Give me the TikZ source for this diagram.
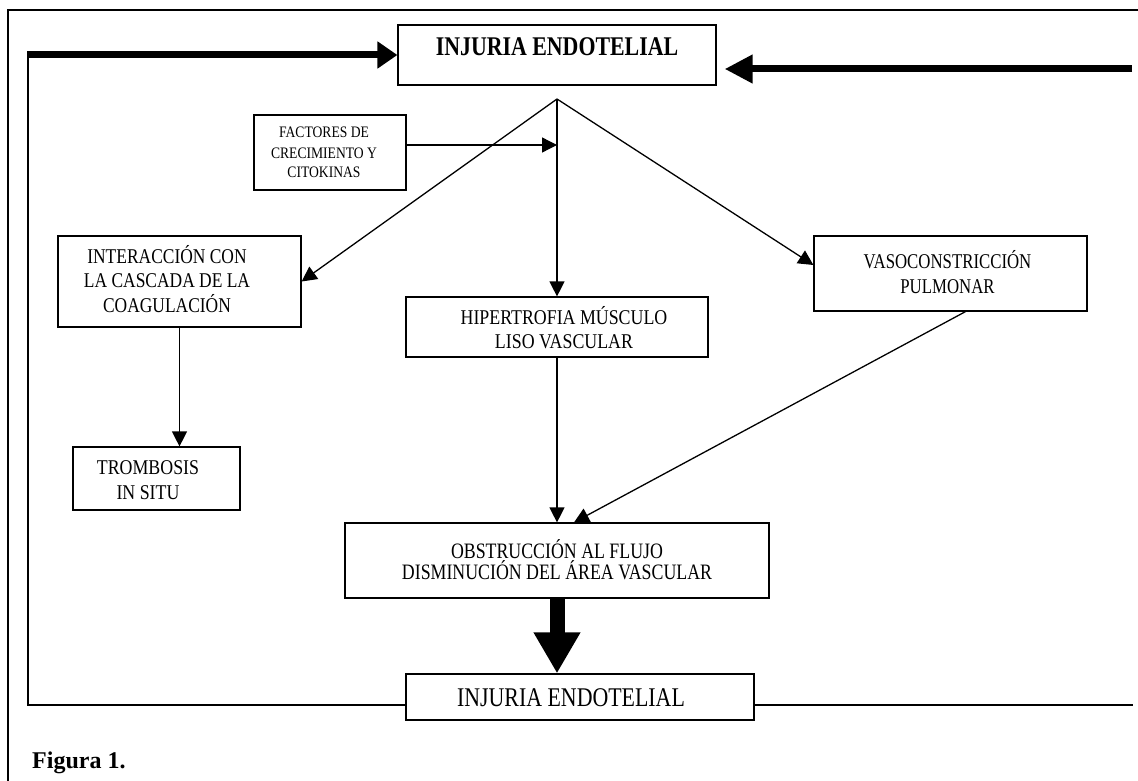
\documentclass[tikz,border=0pt]{standalone}
\usepackage{graphicx}
\usepackage{fontspec}
\setmainfont{Liberation Serif}
\usetikzlibrary{arrows.meta,calc}

% centred lines with a fixed baseline distance; the box baseline is the last line
\newcommand\txtrows[2]{\vbox{\baselineskip=#1\lineskiplimit=-\maxdimen\lineskip=0pt\halign{\hfil##\hfil\cr#2\crcr}}}
% horizontally condensed text
\newcommand\cnd[2]{\scalebox{#1}[1]{#2}}

\begin{document}
\begin{tikzpicture}[x=1pt,y=-1pt,
  box/.style n args={2}{draw, line width=1.2pt, rectangle, inner sep=0pt,
    minimum width=#1, minimum height=#2},
  txt/.style={inner sep=0pt, anchor=base},
  frame/.style={line width=1.5pt},
  link/.style={line width=1.3pt},
  con/.style={line width=1.3pt, -{Triangle[length=15pt,width=15pt]}},
  fat/.style={line width=7pt},
  big/.style={line width=15pt, -{Triangle[length=41pt,width=44pt]}}]
\useasboundingbox (0,0) rectangle (1138,781);

% outer frame
\coordinate (fa) at (8,781);
\coordinate (fb) at (8,10);
\coordinate (fc) at (1138,10);
\draw[frame] (fa) -- (fb) -- (fc);

% boxes
\node[box={318pt}{60pt}] (top) at (557,55) {};
\node[box={152pt}{75pt}] (fac) at (330,152.5) {};
\node[box={243pt}{91pt}] (inter) at (179.5,281.5) {};
\node[box={302pt}{60pt}] (hip) at (557,327) {};
\node[box={273pt}{75pt}] (vaso) at (950.5,273.5) {};
\node[box={167pt}{63pt}] (trom) at (156.5,478.5) {};
\node[box={424pt}{75pt}] (obs) at (557,560.5) {};
\node[box={348pt}{46pt}] (bot) at (580,697) {};

% box texts
\node[txt] (ttop) at (557,56) {\fontsize{27}{27}\selectfont\bfseries\cnd{0.81}{INJURIA ENDOTELIAL}};
\node[txt] (tfac) at (324,178) {\fontsize{16}{20}\selectfont\cnd{0.85}{\txtrows{20pt}{FACTORES DE\cr CRECIMIENTO Y\cr CITOKINAS}}};
\node[txt] (tinter) at (167,312) {\fontsize{21}{24}\selectfont\cnd{0.83}{\txtrows{24.5pt}{INTERACCIÓN CON\cr LA CASCADA DE LA\cr COAGULACIÓN}}};
\node[txt] (thip) at (564,348) {\fontsize{21}{24}\selectfont\cnd{0.85}{\txtrows{24pt}{HIPERTROFIA MÚSCULO\cr LISO VASCULAR}}};
\node[txt] (tvaso) at (947.5,293) {\fontsize{21}{25}\selectfont\cnd{0.8}{\txtrows{25pt}{VASOCONSTRICCIÓN\cr PULMONAR}}};
\node[txt] (ttrom) at (148,499) {\fontsize{21}{25}\selectfont\cnd{0.85}{\txtrows{25pt}{TROMBOSIS\cr IN SITU}}};
\node[txt] (tobs) at (557,579) {\fontsize{22}{21}\selectfont\cnd{0.81}{\txtrows{21pt}{OBSTRUCCIÓN AL FLUJO\cr DISMINUCIÓN DEL ÁREA VASCULAR}}};
\node[txt] (tbot) at (571,706) {\fontsize{27}{27}\selectfont\cnd{0.81}{INJURIA ENDOTELIAL}};

% caption
\node[inner sep=0pt, anchor=base west] (fig) at (32,768) {\fontsize{24}{24}\selectfont\bfseries Figura 1.};

% fan from the top box
\coordinate (ap) at (557,99);
\draw[con] (ap) -- (inter.east);
\draw[con] (ap) -- ($(vaso.west)+(0,-8.5)$);
\draw[con] (ap) -- (hip.north);
\coordinate (fa1) at ($(fac.east)+(0,-7.5)$);
\draw[con] (fa1) -- (fa1 -| ap);

% lower connectors
\draw[con] (inter.south) -- (inter.south |- trom.north);
\draw[con] (hip.south) -- (obs.north);
\coordinate (v1) at ($(vaso.south)+(15,0)$);
\coordinate (o1) at ($(obs.north)+(17,0)$);
\draw[con] (v1) -- (o1);
\draw[big] (obs.south) -- (obs.south |- bot.north);

% feedback loop, left side
\coordinate (lb) at ($(bot.west)+(0,8)$);
\coordinate (lc) at (28,51.5);
\draw[link] (lb) -- (lb -| lc) -- (lc);
\coordinate (lt) at (27,55);
\draw[fat, -{Triangle[length=20pt,width=26pt]}] (lt) -- (top.west);

% feedback loop, right side
\coordinate (rb) at ($(bot.east)+(0,8)$);
\coordinate (re) at (1133,705);
\draw[link] (rb) -- (rb -| re);
\coordinate (rt) at (1132,69);
\draw[fat, -{Triangle[length=28pt,width=27pt]}, shorten >=8pt] (rt) -- (rt -| top.east);
\end{tikzpicture}
\end{document}
